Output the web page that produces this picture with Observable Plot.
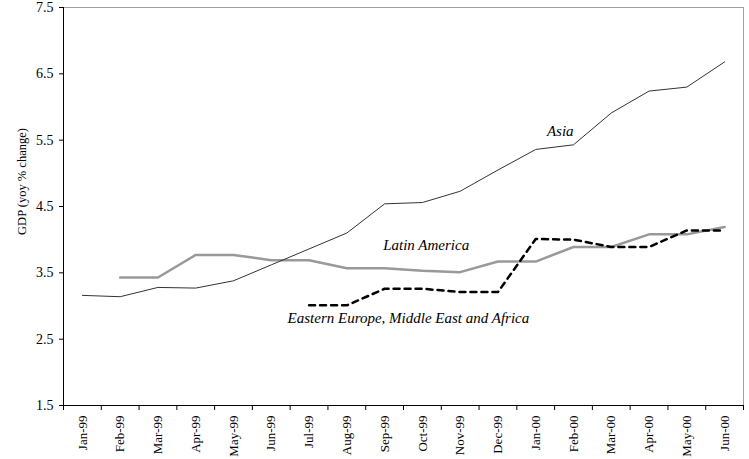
<!DOCTYPE html>
<html>
<head>
<meta charset="utf-8">
<script src="https://cdn.jsdelivr.net/npm/d3@7"></script>
<script src="https://cdn.jsdelivr.net/npm/@observablehq/plot@0.6"></script>
<style>
  html, body { margin: 0; padding: 0; background: white; }
  svg text { font-family: "Liberation Serif", "Times New Roman", Times, serif !important; }
</style>
</head>
<body>
<div id="chart"></div>
<script>
const months = ["Jan-99","Feb-99","Mar-99","Apr-99","May-99","Jun-99","Jul-99","Aug-99","Sep-99","Oct-99","Nov-99","Dec-99","Jan-00","Feb-00","Mar-00","Apr-00","May-00","Jun-00"];
const asia  = [3.16, 3.14, 3.28, 3.27, 3.38, 3.62, 3.86, 4.10, 4.54, 4.56, 4.73, 5.05, 5.36, 5.43, 5.91, 6.24, 6.30, 6.68];
const latam = [null, 3.43, 3.43, 3.77, 3.77, 3.69, 3.69, 3.57, 3.57, 3.53, 3.51, 3.67, 3.67, 3.89, 3.89, 4.08, 4.08, 4.19];
const eemea = [null, null, null, null, null, null, 3.01, 3.01, 3.26, 3.26, 3.21, 3.21, 4.01, 4.00, 3.89, 3.89, 4.14, 4.14];
const yTicks = [1.5, 2.5, 3.5, 4.5, 5.5, 6.5, 7.5];
const yLabel = "GDP (yoy % change)";

const idx = months.map((_, i) => i);
const boundaries = d3.range(months.length + 1).map(i => i - 0.5);
const series = (vals) => vals.map((v, i) => ({i, v})).filter(d => d.v != null);

const annotations = [
  {text: "Asia", i: 12.65, v: 5.63},
  {text: "Latin America", i: 9.1, v: 3.915},
  {text: "Eastern Europe, Middle East and Africa", i: 8.63, v: 2.82}
];

const serif = "Liberation Serif";

const chart = Plot.plot({
  width: 749,
  height: 459,
  marginLeft: 63,
  marginRight: 6,
  marginTop: 7,
  marginBottom: 54,
  style: {fontFamily: serif, fontSize: "13px", background: "white", color: "black", overflow: "visible"},
  x: {domain: [-0.5, months.length - 0.5]},
  y: {domain: [1.5, 7.5]},
  marks: [
    Plot.frame({stroke: "#a0a0a0"}),
    Plot.ruleX([-0.5], {stroke: "black"}),
    Plot.ruleY([1.5], {stroke: "black"}),
    Plot.axisY({ticks: yTicks, tickSize: 4, tickPadding: 6, tickFormat: d => d.toFixed(1), label: null, fontSize: 14, fontFamily: serif}),
    Plot.axisX({ticks: idx, tickSize: 0, tickPadding: 10, tickRotate: -90, tickFormat: i => months[i], label: null, fontSize: 13, fontFamily: serif}),
    Plot.axisX({ticks: boundaries, tickSize: 5, tickFormat: () => "", label: null}),
    Plot.text([yLabel], {text: d => d, frameAnchor: "left", rotate: -90, textAnchor: "middle", dx: -42, dy: -25, fontSize: 12.5, fontFamily: serif}),
    Plot.line(series(latam), {x: "i", y: "v", stroke: "#999999", strokeWidth: 2.5}),
    Plot.line(series(eemea), {x: "i", y: "v", stroke: "black", strokeWidth: 2.5, strokeDasharray: "6,5"}),
    Plot.line(series(asia), {x: "i", y: "v", stroke: "#333333", strokeWidth: 1}),
    Plot.text(annotations, {x: "i", y: "v", text: "text", fontStyle: "italic", fontSize: 15, fontFamily: serif})
  ]
});
document.getElementById("chart").appendChild(chart);
</script>
</body>
</html>
